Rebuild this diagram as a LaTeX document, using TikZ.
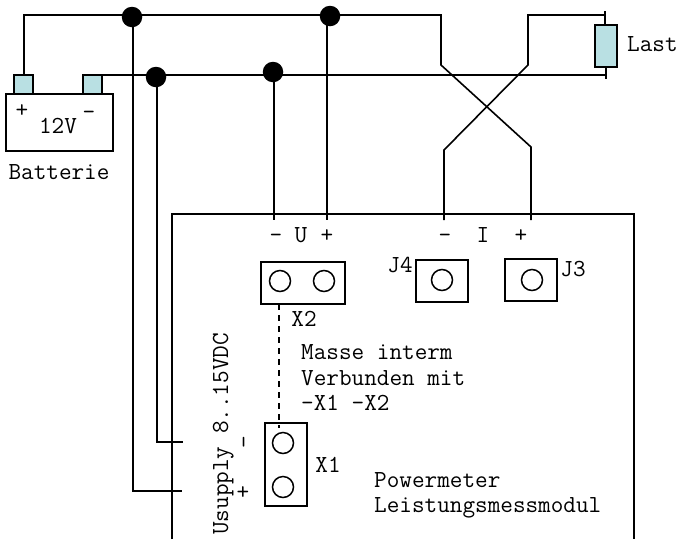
\documentclass[tikz,border=0pt]{standalone}
\definecolor{termcol}{HTML}{B9E0E3}
\tikzset{
    wire/.style={line width=1.6pt},
    junction/.style={circle, fill=black, inner sep=0pt, minimum size=20.5pt},
    term/.style={draw, line width=1.5pt, fill=termcol, inner sep=0pt},
    socket/.style={circle, draw, line width=1.5pt, inner sep=0pt, minimum size=21pt},
    box/.style={draw, line width=1.5pt, inner sep=0pt},
    lbl/.style={inner sep=0pt, anchor=base west, font=\ttfamily\fontsize{24.5pt}{24.5pt}\selectfont},
    mid/.style={lbl, anchor=base}
}
\begin{document}
\begin{tikzpicture}[x=1pt,y=-1pt]
    \useasboundingbox (0,0) rectangle (679,539);

    %battery
    \node[box, minimum width=107pt, minimum height=57pt] (batt) at (59.5,122.5) {};
    \node[term, minimum width=19pt, minimum height=19pt] (tplus) at (23.5,84.5) {};
    \node[term, minimum width=19pt, minimum height=19pt] (tminus) at (92.5,84.5) {};
    \node[mid] (lplus) at (22,117) {+};
    \node[mid] (lminus) at (89,119) {-};
    \node[mid] (lvolt) at (58,133) {12V};
    \node[mid] (lbatt) at (59,179) {Batterie};

    %load
    \node[term, minimum width=22pt, minimum height=42pt] (load) at (606,46) {};
    \node[lbl] (lload) at (627,51) {Last};

    %module outline
    \coordinate (mtl) at (172,214);
    \coordinate (mtr) at (634,214);
    \coordinate (mbl) at (172,539);
    \coordinate (mbr) at (634,539);
    \draw[wire] (mbl) -- (mtl) -- (mtr) -- (mbr);

    %sockets
    \node[box, minimum width=84pt, minimum height=42pt] (xtwo) at (303,283) {};
    \node[socket] (xtwoa) at (280,281) {};
    \node[socket] (xtwob) at (324,281) {};
    \node[box, minimum width=52pt, minimum height=42pt] (jfour) at (442,281) {};
    \node[socket] (jfoura) at (442,280) {};
    \node[box, minimum width=52pt, minimum height=42pt] (jthree) at (531,280) {};
    \node[socket] (jthreea) at (532,280) {};
    \node[box, minimum width=42pt, minimum height=83pt] (xone) at (286,464.5) {};
    \node[socket] (xonea) at (283,443) {};
    \node[socket] (xoneb) at (283,487) {};

    %junctions
    \node[junction] (ja) at (132,17) {};
    \node[junction] (jb) at (330,16) {};
    \node[junction] (jc) at (156,77) {};
    \node[junction] (jd) at (273,72) {};

    %free wire ends
    \coordinate (topl) at (24,15);
    \coordinate (topm) at (441,15);
    \coordinate (topn) at (528,15);
    \coordinate (topr) at (605,15);
    \coordinate (kinkl) at (441,65);
    \coordinate (kinkr) at (528,65);
    \coordinate (lowl) at (444,150);
    \coordinate (lowr) at (531,147);
    \coordinate (inl) at (444,220);
    \coordinate (inr) at (531,220);
    \coordinate (inu) at (274,220);
    \coordinate (inv) at (327,220);
    \coordinate (rail) at (93,75);
    \coordinate (railr) at (606,75);
    \coordinate (inpa) at (182,491);
    \coordinate (inpb) at (183,442);

    %wires
    \draw[wire] (tplus.north -| topl) -- (topl) -- (topm) -- (kinkl) -- (lowr) -- (inr);
    \draw[wire] (inl) -- (lowl) -- (kinkr) -- (topn) -- (topr);
    \draw[wire] (rail) -- (railr);
    \draw[wire] (load.north -| topr) ++(0,-13) -- (load.north -| topr);
    \draw[wire] (load.south -| railr) -- ++(0,11);
    \draw[wire] (133,17) |- (inpa);
    \draw[wire] (157,77) |- (inpb);
    \draw[wire] (jd.center -| inu) -- (inu);
    \draw[wire] (jb.center -| inv) -- (inv);
    \draw[wire, dash pattern=on 6pt off 5pt] (279,304) -- (279,428);

    %labels
    \node[mid] (lminu) at (276,242) {-};
    \node[mid] (lu) at (301,242) {U};
    \node[mid] (lplu) at (327,242) {+};
    \node[mid] (lmini) at (445,242) {-};
    \node[mid] (li) at (483,242) {I};
    \node[mid] (lpli) at (521,242) {+};
    \node[mid] (ljfour) at (400,272) {J4};
    \node[mid] (ljthree) at (573,276) {J3};
    \node[mid] (lxtwo) at (304,326) {X2};
    \node[mid] (lxone) at (328,472) {X1};
    \node[lbl] (lmassea) at (301,359) {Masse interm};
    \node[lbl] (lmasseb) at (301,385) {Verbunden mit};
    \node[lbl] (lmassec) at (301,410) {-X1 -X2};
    \node[lbl] (lpm) at (374,487) {Powermeter};
    \node[lbl] (lmod) at (374,512) {Leistungsmessmodul};
    \node[lbl, rotate=90] (lsup) at (228,535) {Usupply 8..15VDC};
    \node[mid, rotate=90] (lsupm) at (251,442) {-};
    \node[mid] (lsupp) at (243,499) {+};

\end{tikzpicture}
\end{document}
